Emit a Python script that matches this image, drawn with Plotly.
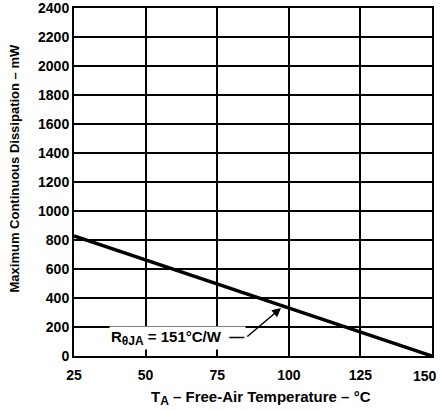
import plotly.graph_objects as go

temps = [25, 150]
power_mw = [828, 0]
x_ticks = [25, 50, 75, 100, 125, 150]
x_tick_labels = ["25", "50", "75", "100", "125", ""]
last_x_label = "150"
y_ticks = [0, 200, 400, 600, 800, 1000, 1200, 1400, 1600, 1800, 2000, 2200, 2400]

FONT = "Liberation Sans, Arial, sans-serif"

fig = go.Figure()
fig.add_trace(go.Scatter(x=temps, y=power_mw, mode="lines",
                         line=dict(color="black", width=3.5),
                         showlegend=False, hoverinfo="skip"))

tickfont = dict(family=FONT, size=14, color="black", weight="bold")
axis_common = dict(showline=True, linecolor="black", linewidth=2, mirror=True,
                   showgrid=True, gridcolor="black", gridwidth=1.6,
                   zeroline=False, ticks="", automargin=False,
                   ticklabeloverflow="allow", tickfont=tickfont)

SUB = "<sub><span style='font-size:12px'>{}</span></sub>"

fig.update_xaxes(range=[25, 150], tickvals=x_ticks, ticktext=x_tick_labels,
                 ticklabelstandoff=5, **axis_common)
fig.update_yaxes(range=[0, 2400], tickvals=y_ticks, ticktext=[str(v) for v in y_ticks],
                 **axis_common)

# axis titles
fig.add_annotation(x=0.5237, y=-0.1207, xref="paper", yref="paper",
                   text="T" + SUB.format("A") + " – Free-Air Temperature – °C",
                   showarrow=False, xanchor="center", yanchor="middle",
                   font=dict(family=FONT, size=15, color="black", weight="bold"))
fig.add_annotation(x=-0.1676, y=0.5388, xref="paper", yref="paper",
                   text="Maximum Continuous Dissipation – mW", textangle=-90,
                   showarrow=False, xanchor="center", yanchor="middle",
                   font=dict(family=FONT, size=13, color="black", weight="bold"))

# last x tick label, kept inside the page
fig.add_annotation(x=150, y=0, xref="x", yref="paper", text=last_x_label,
                   showarrow=False, xanchor="right", yanchor="top",
                   xshift=7, yshift=-10, font=tickfont)

# label with white background
fig.add_annotation(x=61, y=126, xref="x", yref="y",
                   text="R" + SUB.format("θJA") + " = 151°C/W  —",
                   showarrow=False, bgcolor="white", borderpad=1,
                   font=dict(family=FONT, size=15, color="black", weight="bold"))
# arrow
fig.add_annotation(x=97.3, y=331, ax=85, ay=126, xref="x", yref="y",
                   axref="x", ayref="y", text="", showarrow=True,
                   arrowhead=2, arrowsize=1.2, arrowwidth=1.5, arrowcolor="black",
                   standoff=0, startstandoff=0)

fig.update_layout(width=440, height=411,
                  margin=dict(l=74, r=8, t=8, b=55, autoexpand=False),
                  plot_bgcolor="white", paper_bgcolor="white")

fig.write_html("out.html", config={"displayModeBar": False},
               post_script="document.body.style.margin='0';")
